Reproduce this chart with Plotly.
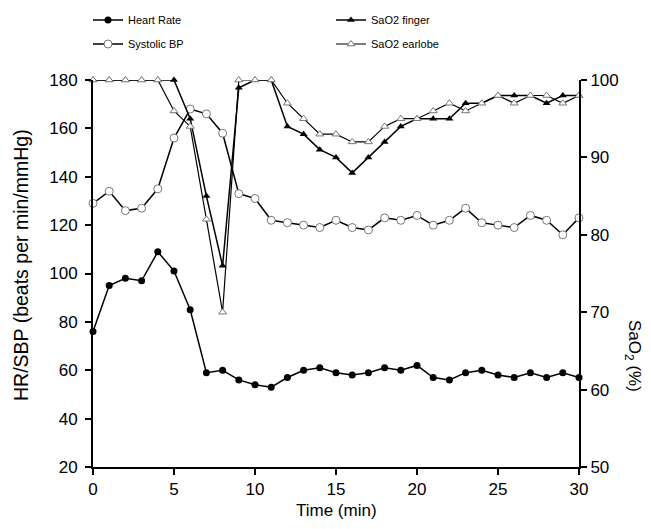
import plotly.graph_objects as go

time_min = list(range(31))
heart_rate = [76, 95, 98, 97, 109, 101, 85, 59, 60, 56, 54, 53, 57, 60, 61, 59,
              58, 59, 61, 60, 62, 57, 56, 59, 60, 58, 57, 59, 57, 59, 57]
systolic_bp = [129, 134, 126, 127, 135, 156, 168, 166, 158, 133, 131, 122, 121, 120, 119, 122,
               119, 118, 123, 122, 124, 120, 122, 127, 121, 120, 119, 124, 122, 116, 123]
sao2_finger = [100, 100, 100, 100, 100, 100, 95, 85, 76, 99, 100, 100, 94, 93, 91, 90,
               88, 90, 92, 94, 95, 95, 95, 97, 97, 98, 98, 98, 97, 98, 98]
sao2_earlobe = [100, 100, 100, 100, 100, 96, 94, 82, 70, 100, 100, 100, 97, 95, 93, 93,
                92, 92, 94, 95, 95, 96, 97, 96, 97, 98, 97, 98, 98, 97, 98]

x_ticks = [0, 5, 10, 15, 20, 25, 30]
left_ticks = [20, 40, 60, 80, 100, 120, 140, 160, 180]
right_ticks = [50, 60, 70, 80, 90, 100]

FONT = "Liberation Sans, Arial, sans-serif"
W, H = 651, 529
L, R, T, B = 93, 72, 80, 62
PW, PH = W - L - R, H - T - B

fig = go.Figure()
fig.add_trace(go.Scatter(
    x=time_min, y=heart_rate, name="Heart Rate", mode="lines+markers",
    line=dict(color="black", width=1.5),
    marker=dict(symbol="circle", size=7, color="black"),
    cliponaxis=False, legend="legend"))
fig.add_trace(go.Scatter(
    x=time_min, y=systolic_bp, name="Systolic BP", mode="lines+markers",
    line=dict(color="black", width=1.5),
    marker=dict(symbol="circle", size=8, color="white", line=dict(color="#777", width=1)),
    cliponaxis=False, legend="legend2"))
fig.add_trace(go.Scatter(
    x=time_min, y=sao2_finger, name="SaO2 finger", mode="lines+markers", yaxis="y2",
    line=dict(color="black", width=1.5),
    marker=dict(symbol="triangle-up", size=7, color="black"),
    cliponaxis=False, legend="legend3"))
fig.add_trace(go.Scatter(
    x=time_min, y=sao2_earlobe, name="SaO2 earlobe", mode="lines+markers", yaxis="y2",
    line=dict(color="black", width=1.2),
    marker=dict(symbol="triangle-up", size=7, color="white", line=dict(color="#777", width=1)),
    cliponaxis=False, legend="legend4"))

def leg(x, y):
    return dict(xref="container", yref="container", x=x / W, y=1 - y / H,
                xanchor="left", yanchor="middle", bgcolor="rgba(0,0,0,0)",
                font=dict(family=FONT, size=11, color="black"))

def px_x(p):
    return (p - L) / PW

def px_y(p):
    return (H - B - p) / PH

axis_common = dict(ticks="outside", ticklen=6, tickwidth=1.5, tickcolor="black",
                   showline=True, linecolor="black", linewidth=2,
                   showgrid=False, zeroline=False, automargin=False,
                   tickfont=dict(family=FONT, size=17, color="black"))

fig.update_layout(
    width=W, height=H,
    margin=dict(l=L, r=R, t=T, b=B, autoexpand=False),
    paper_bgcolor="white", plot_bgcolor="white",
    font=dict(family=FONT, size=16, color="black"),
    showlegend=True,
    legend=leg(88, 20),
    legend2=leg(88, 44),
    legend3=leg(331, 20),
    legend4=leg(331, 44),
    xaxis=dict(range=[0, 30], tickvals=x_ticks, **axis_common),
    yaxis=dict(range=[20, 180], tickvals=left_ticks, ticklabelstandoff=4, **axis_common),
    yaxis2=dict(range=[50, 100], tickvals=right_ticks, overlaying="y", side="right",
                **axis_common),
    annotations=[
        dict(text="Time (min)", xref="paper", yref="paper",
             x=0.5, y=px_y(510), showarrow=False, xanchor="center", yanchor="middle",
             font=dict(family=FONT, size=17, color="black")),
        dict(text="HR/SBP (beats per min/mmHg)", xref="paper", yref="paper",
             x=px_x(21), y=px_y(265), textangle=-90, showarrow=False,
             xanchor="center", yanchor="middle",
             font=dict(family=FONT, size=19.5, color="black")),
        dict(text="SaO<sub>2</sub> (%)", xref="paper", yref="paper",
             x=px_x(633), y=px_y(356), textangle=90, showarrow=False,
             xanchor="center", yanchor="middle",
             font=dict(family=FONT, size=17, color="black")),
    ],
)

fig.write_html("out.html")
